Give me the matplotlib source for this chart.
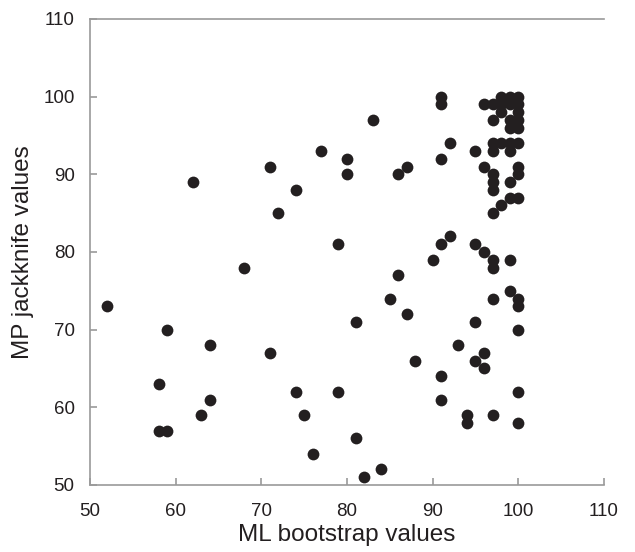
import matplotlib
matplotlib.use('Agg')
import matplotlib.pyplot as plt

plt.rcParams['font.family'] = ['Liberation Sans', 'DejaVu Sans']

# ML bootstrap (x) vs MP jackknife (y)
ml_bootstrap = [
    91, 91, 83,
    98, 99, 100,
    96, 97, 98, 99, 100,
    98, 100,
    97, 99, 100,
    99, 100,
    92, 97, 98, 99, 100,
    91, 95, 97, 99,
    96, 100, 97, 100, 97, 99, 97, 99, 100, 98, 97,
    92, 91, 95, 96, 90, 97, 99, 97, 86,
    99, 85, 97, 100, 100, 87, 81, 95, 100,
    93, 96, 88, 95, 96, 91, 79, 100, 91,
    94, 97, 94, 100, 81, 76, 84, 82,
    62, 71, 72, 74, 77, 80, 80, 86, 87, 79, 68,
    52, 59, 64, 58, 64, 63, 58, 59, 71, 74, 75,
]
mp_jackknife = [
    100, 99, 97,
    100, 100, 100,
    99, 99, 99, 99, 99,
    98, 98,
    97, 97, 97,
    96, 96,
    94, 94, 94, 94, 94,
    92, 93, 93, 93,
    91, 91, 90, 90, 89, 89, 88, 87, 87, 86, 85,
    82, 81, 81, 80, 79, 79, 79, 78, 77,
    75, 74, 74, 74, 73, 72, 71, 71, 70,
    68, 67, 66, 66, 65, 64, 62, 62, 61,
    59, 59, 58, 58, 56, 54, 52, 51,
    89, 91, 85, 88, 93, 92, 90, 90, 91, 81, 78,
    73, 70, 68, 63, 61, 59, 57, 57, 67, 62, 59,
]

x_ticks = [50, 60, 70, 80, 90, 100, 110]
y_ticks = [50, 60, 70, 80, 90, 100, 110]

fig = plt.figure(figsize=(6.35, 5.52), dpi=100)
ax = fig.add_axes([0.1417, 0.1214, 0.8094, 0.8442])

ax.scatter(ml_bootstrap, mp_jackknife, s=72, color='#231f20', zorder=3, linewidths=0)

ax.set_xlim(50, 110)
ax.set_ylim(50, 110)
ax.set_xticks(x_ticks)
ax.set_yticks(y_ticks)

spine_col = '#9a9a9a'
ax.spines['right'].set_visible(False)
for side in ['left', 'bottom', 'top']:
    ax.spines[side].set_color(spine_col)
    ax.spines[side].set_linewidth(1.2)
ax.tick_params(direction='in', length=5, width=1.2, color=spine_col,
               labelsize=13.5, labelcolor='#231f20')
ax.tick_params(axis='y', pad=11)
ax.tick_params(axis='x', pad=13)

ax.set_xlabel('ML bootstrap values', fontsize=17.5, color='#231f20', labelpad=3)
ax.set_ylabel('MP jackknife values', fontsize=17.5, color='#231f20', labelpad=7)

fig.savefig('out.png', dpi=100)
